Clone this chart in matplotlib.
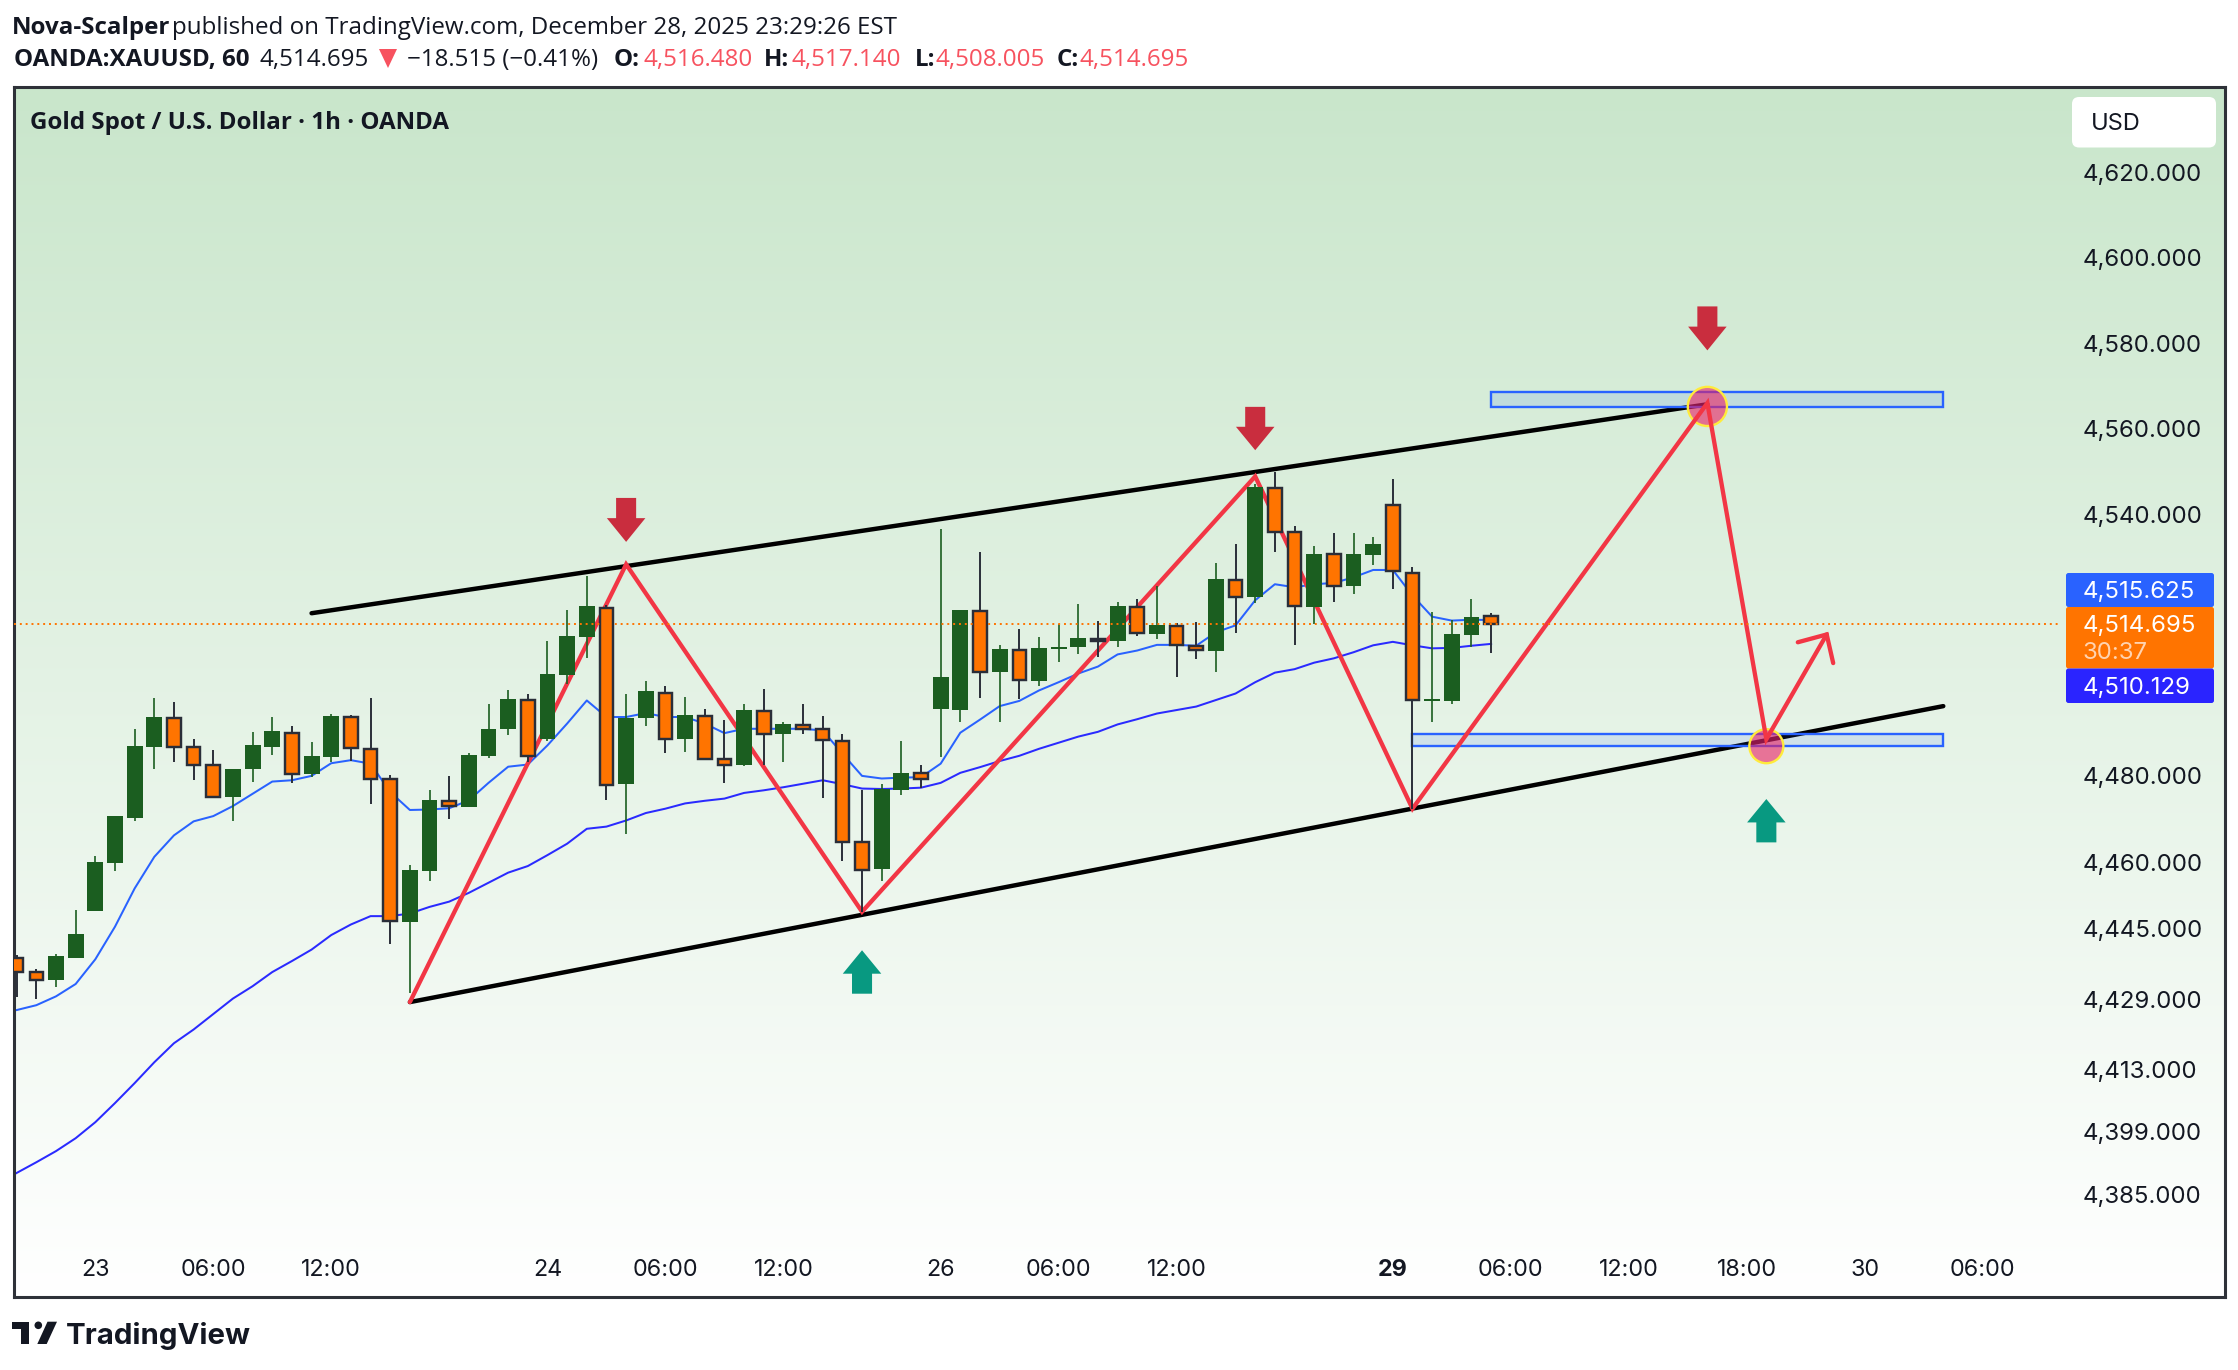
import numpy as np
import matplotlib
matplotlib.use("Agg")
import matplotlib.pyplot as plt
from matplotlib.patches import Polygon, Rectangle, FancyBboxPatch, Circle
from matplotlib.transforms import IdentityTransform
from matplotlib.ticker import NullLocator, NullFormatter

plt.rcParams['font.family'] = ['Inter', 'DejaVu Sans']

# ---------- data ----------
bar_index = list(range(76))
highs = [4438.9,4435.9,4439.1,4449.3,4461.4,4470.6,4490.5,4497.6,4496.7,4488.2,4485.7,4481.4,4489.8,4493.2,4491.2,4487.5,4494.1,4493.7,4497.6,4479.9,
         4459.4,4476.5,4479.7,4485.0,4496.2,4499.4,4498.7,4510.7,4518.0,4525.9,4519.2,4498.5,4501.5,4500.4,4497.8,4495.1,4492.5,4496.2,4499.8,4492.1,
         4496.2,4493.5,4489.5,4476.5,4478.0,4487.7,4482.4,4536.6,4517.9,4531.3,4509.8,4513.5,4511.6,4514.6,4519.4,4515.5,4519.7,4520.6,4523.6,4515.0,
         4515.1,4528.7,4533.1,4547.2,4549.9,4537.5,4532.7,4535.7,4535.7,4534.8,4548.2,4527.8,4517.4,4515.7,4520.4,4517.14]
lows = [4429.5,4429.0,4431.7,4438.3,4449.0,4458.1,4469.5,4481.3,4483.0,4478.8,4474.7,4469.5,4478.3,4484.5,4478.2,4479.5,4482.9,4483.2,4473.3,4441.4,
        4430.4,4455.7,4469.9,4472.7,4484.0,4489.1,4483.0,4487.9,4500.8,4506.9,4474.2,4466.4,4491.2,4485.0,4485.2,4483.5,4478.1,4482.0,4482.2,4482.9,
        4489.5,4474.7,4460.3,4448.8,4455.9,4475.4,4477.1,4484.1,4492.1,4497.6,4492.1,4497.4,4500.4,4505.9,4507.9,4507.2,4509.5,4511.9,4511.2,4502.6,
        4506.6,4503.6,4512.6,4519.5,4531.3,4509.8,4514.6,4519.7,4521.6,4528.3,4522.9,4472.3,4492.1,4496.2,4509.3,4508.005]
opens = [4438.3,4435.1,4433.3,4438.3,4449.0,4459.9,4470.2,4486.4,4493.1,4486.4,4482.3,4474.9,4481.3,4486.4,4489.6,4480.2,4484.1,4493.3,4486.0,4479.1,
         4446.5,4458.1,4474.1,4472.7,4484.3,4490.5,4497.2,4488.2,4502.9,4511.6,4518.4,4477.9,4493.0,4498.8,4488.2,4493.5,4483.7,4482.2,4494.7,4489.3,
         4491.5,4490.5,4487.8,4464.8,4458.5,4476.5,4480.5,4495.1,4494.9,4517.7,4503.6,4508.7,4501.5,4508.9,4509.5,4511.3,4510.7,4518.6,4512.3,4514.2,
         4509.6,4508.4,4524.9,4520.9,4546.2,4536.0,4518.6,4530.9,4523.4,4530.6,4542.2,4526.6,4497.0,4496.9,4512.1,4516.48]
closes = [4435.2,4433.4,4438.7,4443.7,4460.1,4470.6,4486.6,4493.2,4486.5,4482.4,4475.0,4481.4,4486.8,4490.0,4480.3,4484.3,4493.5,4486.3,4479.2,4446.6,
          4458.2,4474.2,4472.8,4484.5,4490.5,4497.4,4484.4,4503.3,4511.9,4518.8,4477.8,4493.0,4499.2,4488.3,4493.7,4483.7,4482.4,4494.8,4489.5,4491.6,
          4490.6,4488.1,4464.8,4458.4,4476.7,4480.5,4479.2,4502.4,4517.9,4503.7,4508.9,4501.7,4509.1,4509.5,4511.4,4510.8,4518.8,4512.7,4514.4,4509.8,
          4508.7,4525.0,4521.0,4546.4,4536.1,4518.9,4531.0,4523.6,4530.8,4533.1,4526.9,4497.1,4497.4,4512.3,4516.4,4514.695]

ma_index = list(range(-1, 76))
fast_ma = [4425.6,4426.5,4427.6,4429.6,4432.4,4438.0,4445.4,4454.1,4461.3,4466.2,4469.4,4470.6,4472.9,4475.7,4478.5,4478.8,4479.8,4482.7,4483.4,4482.6,4476.1,
           4472.0,4472.1,4472.4,4474.2,4478.2,4481.9,4482.4,4486.8,4491.8,4497.1,4493.3,4493.3,4494.2,4493.3,4493.3,4491.8,4489.6,4490.6,4490.6,4490.6,
           4490.6,4490.2,4484.9,4479.8,4479.2,4479.4,4479.5,4482.6,4489.7,4492.7,4495.8,4497.0,4499.4,4501.3,4503.3,4504.9,4507.7,4508.6,4509.9,4509.9,
           4509.7,4512.8,4514.4,4520.2,4523.9,4523.2,4523.9,4524.2,4525.5,4527.2,4527.2,4521.3,4516.4,4515.5,4515.7,4515.625]
slow_ma = [4387.3,4389.8,4392.2,4394.7,4397.6,4401.2,4405.5,4410.0,4414.7,4419.0,4422.1,4425.6,4429.1,4431.9,4435.1,4437.6,4440.2,4443.5,4445.9,4447.8,4447.8,
           4448.4,4449.9,4451.1,4453.1,4455.4,4457.7,4459.2,4461.7,4464.3,4467.7,4468.2,4469.6,4471.3,4472.3,4473.5,4474.1,4474.6,4475.9,4476.5,4477.2,
           4478.0,4478.8,4477.9,4476.9,4476.8,4476.9,4477.1,4478.2,4480.5,4481.8,4483.2,4484.4,4486.0,4487.4,4488.8,4489.9,4491.6,4492.8,4494.1,4494.9,
           4495.7,4497.2,4498.7,4501.3,4503.5,4504.3,4505.8,4506.8,4508.2,4509.8,4510.6,4509.8,4509.1,4509.2,4509.7,4510.129]

price_ticks = [4620, 4600, 4580, 4560, 4540, 4480, 4460, 4445, 4429, 4413, 4399, 4385]
time_tick_index = [4, 10, 16, 27, 33, 39, 47, 53, 59, 70, 76, 82, 88, 94, 100]
time_tick_labels = ['23', '06:00', '12:00', '24', '06:00', '12:00', '26', '06:00', '12:00', '29', '06:00', '12:00', '18:00', '30', '06:00']

upper_channel_x, upper_channel_y = [15, 86], [4517.2, 4565.7]
lower_channel_x, lower_channel_y = [20, 98], [4428.3, 4495.8]
zigzag_x = [20, 31, 43, 63, 71, 86, 89, 92.07]
zigzag_y = [4428.3, 4528.5, 4448.8, 4548.9, 4472.3, 4566.0, 4488.2, 4512.3]
arrow_head_x = [90.6, 92.07, 92.4]
arrow_head_y = [4510.5, 4512.3, 4505.7]
zone_top = dict(x0=75, x1=98, lo=4565.1, hi=4568.5)
zone_bottom = dict(x0=71, x1=98, lo=4486.6, hi=4489.3)
circle_x, circle_y = [86, 89], [4565.2, 4486.6]
circle_size = [795, 600]
down_arrows = [(31, 4543.9, 4533.7), (63, 4565.1, 4555.0), (86, 4588.6, 4578.3)]
up_arrows = [(43, 4430.2, 4440.05), (89, 4464.6, 4474.5)]

# ---------- layout ----------
W, H = 2238, 1370
LEFT, RIGHT, TOP, BOTTOM = 13.5, 2225, 87, 1297
GREEN, ORANGE, DARK, TEXT = '#1b5e20', '#ff7400', '#2a2e39', '#131722'
RED_T = '#f7525f'

fig = plt.figure(figsize=(W / 100, H / 100), dpi=100, facecolor='white')
rect = [LEFT / W, 1 - BOTTOM / H, (RIGHT - LEFT) / W, (BOTTOM - TOP) / H]

bg = fig.add_axes(rect, zorder=0)
c_top, c_bot = np.array(matplotlib.colors.to_rgb('#c9e6cb')), np.array([1.0, 1.0, 1.0])
t = np.linspace(0, 1, 512)[:, None, None]
bg.imshow(c_top[None, None, :] * (1 - t) + c_bot[None, None, :] * t, aspect='auto', extent=(0, 1, 0, 1))
bg.axis('off')

ax = fig.add_axes(rect, zorder=1, facecolor='none')
ax.set_yscale('log')
ax.set_xlim(-0.162, 112.33)
ax.set_ylim(4362.05, 4640.35)

# moving averages
ax.plot(ma_index, fast_ma, color='#2962ff', lw=1.45, zorder=1.5)
ax.plot(ma_index, slow_ma, color='#2a2aff', lw=1.45, zorder=1.5)

# drawings
ax.plot(upper_channel_x, upper_channel_y, color='black', lw=3.2, solid_capstyle='round', zorder=2)
ax.plot(lower_channel_x, lower_channel_y, color='black', lw=3.2, solid_capstyle='round', zorder=2)
for z in (zone_top, zone_bottom):
    ax.add_patch(Rectangle((z['x0'], z['lo']), z['x1'] - z['x0'], z['hi'] - z['lo'],
                           facecolor=(0.16, 0.38, 1.0, 0.12), edgecolor='#2962ff', lw=1.7, zorder=3))
ax.scatter(circle_x, circle_y, s=circle_size, facecolor=(0.914, 0.118, 0.388, 0.6),
           edgecolor='#ffeb3b', linewidth=1.7, zorder=4)
ax.plot(zigzag_x, zigzag_y, color='#f23645', lw=3.1, solid_joinstyle='miter', solid_capstyle='round', zorder=5)
ax.plot(arrow_head_x, arrow_head_y, color='#f23645', lw=3.1, solid_joinstyle='miter', solid_capstyle='round', zorder=5)


def block_arrow(idx, base, tip, color):
    neck = base + (tip - base) * 0.46
    xs = [idx - .51, idx + .51, idx + .51, idx + .98, idx, idx - .98, idx - .51]
    ys = [base, base, neck, neck, tip, neck, neck]
    ax.add_patch(Polygon(list(zip(xs, ys)), closed=True, facecolor=color, edgecolor='none', zorder=5))


for a in down_arrows:
    block_arrow(*a, '#c92d3e')
for a in up_arrows:
    block_arrow(*a, '#089981')

# candles
for i, o, h, l, c in zip(bar_index, opens, highs, lows, closes):
    up = c >= o
    top, bot = max(o, c), min(o, c)
    if up:
        ax.plot([i, i], [l, h], color=GREEN, lw=1.2, solid_capstyle='butt', zorder=6)
        ax.bar(i, top - bot, bottom=bot, width=0.81, color=GREEN, linewidth=0, zorder=6.1)
    else:
        ax.plot([i, i], [l, h], color=DARK, lw=1.4, solid_capstyle='butt', zorder=6)
        ax.bar(i, top - bot, bottom=bot, width=0.69, color=ORANGE, edgecolor=DARK, linewidth=1.75, zorder=6.1)

# last price line
ax.plot([ax.get_xlim()[0], 104], [closes[-1], closes[-1]], color=ORANGE, lw=1.4,
        ls=(0, (1, 2)), zorder=7)

# axes
for s in ax.spines.values():
    s.set_color('#2e3138')
    s.set_linewidth(2.2)
ax.yaxis.tick_right()
ax.set_yticks(price_ticks)
ax.set_yticklabels([f"{v:,.3f}" for v in price_ticks])
ax.yaxis.set_minor_locator(NullLocator())
ax.yaxis.set_minor_formatter(NullFormatter())
ax.tick_params(axis='y', length=0, pad=-102.3, labelsize=17.3, labelcolor=TEXT)
ax.set_xticks(time_tick_index)
ax.set_xticklabels(time_tick_labels)
ax.tick_params(axis='x', length=0, pad=-27, labelsize=16.8, labelcolor=TEXT)
for lab, s in zip(ax.get_xticklabels(), time_tick_labels):
    if s == '29':
        lab.set_fontweight('bold')


def T(x, y, s, **kw):
    kw.setdefault('va', 'center_baseline')
    kw.setdefault('color', TEXT)
    return fig.text(x / W, 1 - y / H, s, **kw)


def box(x0, y0, x1, y1, color, r=2.5):
    p = FancyBboxPatch((x0, H - y1), x1 - x0, y1 - y0, boxstyle=f"round,pad=0,rounding_size={r}",
                       facecolor=color, edgecolor='none', transform=IdentityTransform(), zorder=2)
    fig.add_artist(p)


# price scale badges
box(2072, 97, 2216, 147.5, 'white', r=7)
T(2091, 121.6, 'USD', fontsize=17)
box(2066, 573, 2214, 607, '#2962ff')
box(2066, 607, 2214, 668.5, ORANGE)
box(2066, 668.5, 2214, 703, '#2a24ff')
T(2083, 590, '4,515.625', fontsize=17.3, color='white', zorder=5)
T(2083, 623.4, '4,514.695', fontsize=17.3, color='white', zorder=5)
T(2083, 650.6, '30:37', fontsize=17.3, color='#ffd3b0', zorder=5)
T(2083, 685, '4,510.129', fontsize=17.3, color='white', zorder=5)

# header
HF = ['Open Sans', 'DejaVu Sans']
FS = 17.4
T(11.5, 25, 'Nova-Scalper', family=HF, fontsize=FS, fontweight='bold')
T(172, 25, 'published on TradingView.com, December 28, 2025 23:29:26 EST', family=HF, fontsize=FS)
T(13.5, 57, 'OANDA:XAUUSD, 60', family=HF, fontsize=FS, fontweight='bold')
T(260, 57, '4,514.695', family=HF, fontsize=FS)
fig.add_artist(Polygon([(379, H - 49), (397, H - 49), (388, H - 68)], closed=True, facecolor=RED_T,
                       edgecolor='none', transform=IdentityTransform()))
T(407, 57, '\u221218.515 (\u22120.41%)', family=HF, fontsize=FS)
for lx, lab, vx, val in [(614, 'O:', 643, '4,516.480'), (764, 'H:', 791, '4,517.140'),
                         (915, 'L:', 935, '4,508.005'), (1057, 'C:', 1079, '4,514.695')]:
    T(lx, 57, lab, family=HF, fontsize=FS, fontweight='bold')
    T(vx, 57, val, family=HF, fontsize=FS, color=RED_T)
T(30, 120, 'Gold Spot / U.S. Dollar \u00b7 1h \u00b7 OANDA', family=HF, fontsize=17.4, fontweight='bold')

# footer logo
LOGO = '#131722'
fig.add_artist(Polygon([(12.3, H - 1321.7), (29.3, H - 1321.7), (29.3, H - 1344), (20.7, H - 1344),
                        (20.7, H - 1329.3), (12.3, H - 1329.3)], closed=True, facecolor=LOGO,
                       edgecolor='none', transform=IdentityTransform()))
fig.add_artist(Circle((38.3, H - 1325.3), 3.8, facecolor=LOGO, edgecolor='none', transform=IdentityTransform()))
fig.add_artist(Polygon([(47.5, H - 1321.7), (57, H - 1321.7), (46.7, H - 1344), (37.3, H - 1344)], closed=True,
                       facecolor=LOGO, edgecolor='none', transform=IdentityTransform()))
T(66, 1344, 'TradingView', fontsize=21.2, fontweight='bold', va='baseline', color=LOGO)

fig.savefig('out.png', facecolor='white')
